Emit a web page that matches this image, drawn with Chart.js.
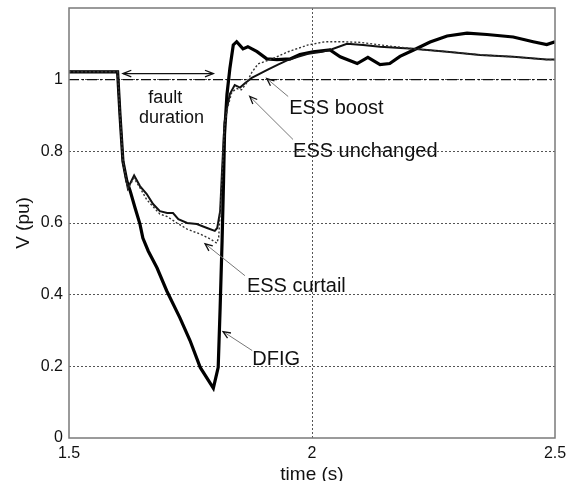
<!DOCTYPE html>
<html><head><meta charset="utf-8">
<script src="https://cdn.jsdelivr.net/npm/chart.js@4"></script>
<style>html,body{margin:0;padding:0;background:#fff;}#wrap{width:574px;height:481px;}</style>
</head><body><div id="wrap"><canvas id="c" width="574" height="481"></canvas></div>
<script>
// ---- data (time in s, voltage in pu) ----
const tDfig = [1.5, 1.6, 1.605, 1.611, 1.619, 1.626, 1.636, 1.646, 1.652, 1.663, 1.681, 1.701, 1.728, 1.749, 1.77, 1.797, 1.807, 1.811, 1.815, 1.818, 1.82, 1.825, 1.831, 1.838, 1.845, 1.858, 1.868, 1.887, 1.907, 1.928, 1.955, 1.975, 2.002, 2.037, 2.058, 2.093, 2.115, 2.14, 2.16, 2.181, 2.208, 2.243, 2.278, 2.319, 2.36, 2.414, 2.455, 2.483, 2.5];
const vDfig = [1.022, 1.022, 0.9, 0.772, 0.717, 0.689, 0.642, 0.597, 0.558, 0.522, 0.475, 0.411, 0.336, 0.272, 0.197, 0.139, 0.197, 0.364, 0.55, 0.717, 0.847, 0.958, 1.031, 1.097, 1.106, 1.086, 1.092, 1.078, 1.058, 1.056, 1.058, 1.07, 1.078, 1.083, 1.064, 1.045, 1.062, 1.042, 1.045, 1.065, 1.082, 1.105, 1.122, 1.13, 1.126, 1.119, 1.106, 1.098, 1.106];

const tEssSolid = [1.5, 1.6, 1.605, 1.611, 1.621, 1.634, 1.646, 1.66, 1.673, 1.687, 1.702, 1.714, 1.725, 1.743, 1.763, 1.784, 1.8, 1.805, 1.811, 1.815, 1.82, 1.825, 1.831, 1.841, 1.852, 1.862, 1.876, 1.889, 1.909, 1.93, 1.951, 1.971, 1.992, 2.021, 2.041, 2.072, 2.105, 2.14, 2.208, 2.278, 2.346, 2.414, 2.483, 2.5];
const vEssSolid = [1.022, 1.022, 0.9, 0.772, 0.697, 0.733, 0.703, 0.681, 0.653, 0.633, 0.628, 0.628, 0.611, 0.6, 0.597, 0.586, 0.578, 0.586, 0.633, 0.75, 0.88, 0.92, 0.96, 0.985, 0.978, 0.99, 1.005, 1.014, 1.028, 1.042, 1.055, 1.064, 1.072, 1.078, 1.085, 1.1, 1.097, 1.092, 1.086, 1.078, 1.069, 1.064, 1.056, 1.056];

const tEssDotted = [1.5, 1.6, 1.605, 1.611, 1.621, 1.634, 1.65, 1.66, 1.687, 1.702, 1.722, 1.743, 1.77, 1.79, 1.804, 1.808, 1.812, 1.816, 1.82, 1.826, 1.835, 1.845, 1.855, 1.865, 1.876, 1.889, 1.918, 1.951, 1.992, 2.027, 2.062, 2.1, 2.14, 2.208, 2.278, 2.346, 2.414, 2.483, 2.5];
const vEssDotted = [1.022, 1.022, 0.9, 0.772, 0.697, 0.725, 0.689, 0.665, 0.625, 0.618, 0.6, 0.583, 0.569, 0.556, 0.544, 0.56, 0.65, 0.76, 0.87, 0.92, 0.965, 0.975, 0.972, 0.99, 1.02, 1.044, 1.058, 1.078, 1.097, 1.106, 1.106, 1.104, 1.097, 1.086, 1.078, 1.069, 1.064, 1.056, 1.056];

const tRef = [1.5, 2.5];
const vRef = [1, 1];

const xTickValues = [1.5, 2, 2.5];
const yTickValues = [0, 0.2, 0.4, 0.6, 0.8, 1];

// ---- helpers ----
const pts = (t, v) => t.map((x, i) => ({x: x, y: v[i]}));
const FONT = "'Liberation Sans', Arial, sans-serif";

const notes = {
  texts: [
    {text: 'fault', x: 1.698, y: 0.95, size: 18, align: 'center'},
    {text: 'duration', x: 1.711, y: 0.892, size: 18, align: 'center'},
    {text: 'ESS boost', x: 1.953, y: 0.919, size: 20, align: 'left'},
    {text: 'ESS unchanged', x: 1.961, y: 0.8, size: 20, align: 'left'},
    {text: 'ESS curtail', x: 1.866, y: 0.422, size: 20, align: 'left'},
    {text: 'DFIG', x: 1.877, y: 0.219, size: 20, align: 'left'}
  ],
  arrows: [
    {x0: 1.951, y0: 0.953, x1: 1.907, y1: 1.003},
    {x0: 1.961, y0: 0.833, x1: 1.872, y1: 0.953},
    {x0: 1.862, y0: 0.453, x1: 1.780, y1: 0.542},
    {x0: 1.877, y0: 0.244, x1: 1.817, y1: 0.297}
  ],
  span: {x0: 1.611, x1: 1.797, y: 1.017}
};

function head(ctx, x0, y0, x1, y1, len, ang) {
  const a = Math.atan2(y1 - y0, x1 - x0);
  ctx.beginPath();
  ctx.moveTo(x1 - len * Math.cos(a - ang), y1 - len * Math.sin(a - ang));
  ctx.lineTo(x1, y1);
  ctx.lineTo(x1 - len * Math.cos(a + ang), y1 - len * Math.sin(a + ang));
  ctx.stroke();
}

const decor = {
  id: 'decor',
  afterDatasetsDraw(chart) {
    const ctx = chart.ctx, xs = chart.scales.x, ys = chart.scales.y, a = chart.chartArea;
    ctx.save();
    // box
    ctx.strokeStyle = '#7a7a7a'; ctx.lineWidth = 1.5; ctx.setLineDash([]);
    ctx.strokeRect(a.left, a.top, a.right - a.left, a.bottom - a.top);
    // arrows
    notes.arrows.forEach(r => {
      const x0 = xs.getPixelForValue(r.x0), y0 = ys.getPixelForValue(r.y0);
      const x1 = xs.getPixelForValue(r.x1), y1 = ys.getPixelForValue(r.y1);
      ctx.strokeStyle = '#777'; ctx.lineWidth = 1;
      ctx.beginPath(); ctx.moveTo(x0, y0); ctx.lineTo(x1, y1); ctx.stroke();
      ctx.strokeStyle = '#111'; ctx.lineWidth = 1.3;
      head(ctx, x0, y0, x1, y1, 8, 0.4);
    });
    // span arrow
    const s = notes.span;
    const sx0 = xs.getPixelForValue(s.x0), sx1 = xs.getPixelForValue(s.x1), sy = ys.getPixelForValue(s.y);
    ctx.strokeStyle = '#111'; ctx.lineWidth = 1.3;
    ctx.beginPath(); ctx.moveTo(sx0, sy); ctx.lineTo(sx1, sy); ctx.stroke();
    head(ctx, sx1, sy, sx0, sy, 9, 0.38);
    head(ctx, sx0, sy, sx1, sy, 9, 0.38);
    // texts
    ctx.fillStyle = '#111'; ctx.textBaseline = 'middle';
    notes.texts.forEach(t => {
      ctx.font = t.size + 'px ' + FONT;
      ctx.textAlign = t.align;
      ctx.fillText(t.text, xs.getPixelForValue(t.x), ys.getPixelForValue(t.y));
    });
    ctx.restore();
  }
};

new Chart(document.getElementById('c'), {
  type: 'line',
  data: {
    datasets: [
      {label: 'reference', data: pts(tRef, vRef), borderColor: '#111', borderWidth: 1.3, borderDash: [10, 3, 2, 3], pointRadius: 0},
      {label: 'ESS (dotted)', data: pts(tEssDotted, vEssDotted), borderColor: '#333', borderWidth: 1.4, borderDash: [2, 2], pointRadius: 0, tension: 0},
      {label: 'ESS (solid)', data: pts(tEssSolid, vEssSolid), borderColor: '#111', borderWidth: 2, pointRadius: 0, tension: 0},
      {label: 'DFIG', data: pts(tDfig, vDfig), borderColor: '#000', borderWidth: 3.2, pointRadius: 0, tension: 0}
    ]
  },
  options: {
    responsive: false,
    animation: false,
    devicePixelRatio: 1,
    layout: {padding: {top: 8, right: 19, left: 0, bottom: 0}},
    plugins: {legend: {display: false}, tooltip: {enabled: false}},
    scales: {
      x: {
        type: 'linear', min: 1.5, max: 2.5,
        afterBuildTicks: sc => { sc.ticks = xTickValues.map(v => ({value: v})); },
        afterFit: sc => { sc.height = 43; sc.paddingLeft = 0; sc.paddingRight = 0; },
        ticks: {color: '#111', font: {family: FONT, size: 16}, padding: 6, maxRotation: 0,
          callback: v => String(v)},
        grid: {drawTicks: false, lineWidth: 1,
          color: c => (c.tick && c.tick.value === 2) ? '#555' : 'rgba(0,0,0,0)'},
        border: {display: false, dash: [2, 2]},
        title: {display: true, text: 'time (s)', color: '#111', font: {family: FONT, size: 19, lineHeight: 1}, padding: {top: 0, bottom: -3}}
      },
      y: {
        type: 'linear', min: 0, max: 1.2,
        afterBuildTicks: sc => { sc.ticks = yTickValues.map(v => ({value: v})); },
        afterFit: sc => { sc.width = 69; sc.paddingTop = 0; sc.paddingBottom = 0; },
        ticks: {color: '#111', font: {family: FONT, size: 16}, padding: 6,
          callback: v => String(Math.round(v * 10) / 10)},
        grid: {drawTicks: false, lineWidth: 1,
          color: c => (c.tick && c.tick.value > 0.01 && c.tick.value < 1.19) ? '#555' : 'rgba(0,0,0,0)'},
        border: {display: false, dash: [2, 2]},
        title: {display: true, text: 'V (pu)', color: '#111', font: {family: FONT, size: 19, lineHeight: 1}, padding: {top: 14, bottom: 0}}
      }
    }
  },
  plugins: [decor]
});
</script>
</body></html>
